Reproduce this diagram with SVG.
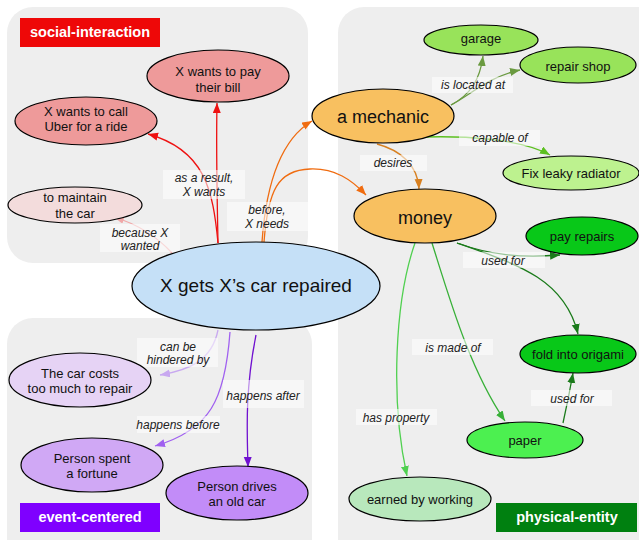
<svg xmlns="http://www.w3.org/2000/svg" width="639" height="540" viewBox="0 0 639 540">
<style>
.panel{fill:#eeeeee}
.node ellipse{stroke:#000;stroke-width:1.2}
.nt{font-family:"Liberation Sans",Arial,sans-serif;font-size:13px;fill:#111;text-anchor:middle}
.big{font-size:18px}
.main{font-size:19px}
.pl{font-family:"Liberation Sans",Arial,sans-serif;font-size:14.5px;font-weight:bold;fill:#fff;text-anchor:middle}
.lb{fill:#fff;fill-opacity:0.55}
.lt{font-family:"Liberation Sans",Arial,sans-serif;font-size:12px;font-style:italic;fill:#222;text-anchor:middle}
.e{fill:none;stroke-width:1.3}
</style>
<defs>
<marker id="m-red" markerUnits="userSpaceOnUse" markerWidth="11" markerHeight="9" refX="10" refY="4" orient="auto"><path d="M0,0 L10,4 L0,8 z" fill="#ee1111"/></marker>
<marker id="m-pink" markerUnits="userSpaceOnUse" markerWidth="11" markerHeight="9" refX="10" refY="4" orient="auto"><path d="M0,0 L10,4 L0,8 z" fill="#f0a8a8"/></marker>
<marker id="m-or" markerUnits="userSpaceOnUse" markerWidth="11" markerHeight="9" refX="10" refY="4" orient="auto"><path d="M0,0 L10,4 L0,8 z" fill="#f06c10"/></marker>
<marker id="m-dor" markerUnits="userSpaceOnUse" markerWidth="11" markerHeight="9" refX="10" refY="4" orient="auto"><path d="M0,0 L10,4 L0,8 z" fill="#d88020"/></marker>
<marker id="m-ol" markerUnits="userSpaceOnUse" markerWidth="11" markerHeight="9" refX="10" refY="4" orient="auto"><path d="M0,0 L10,4 L0,8 z" fill="#6a9a40"/></marker>
<marker id="m-yg" markerUnits="userSpaceOnUse" markerWidth="11" markerHeight="9" refX="10" refY="4" orient="auto"><path d="M0,0 L10,4 L0,8 z" fill="#5cc020"/></marker>
<marker id="m-dg" markerUnits="userSpaceOnUse" markerWidth="11" markerHeight="9" refX="10" refY="4" orient="auto"><path d="M0,0 L10,4 L0,8 z" fill="#1a7a1a"/></marker>
<marker id="m-g" markerUnits="userSpaceOnUse" markerWidth="11" markerHeight="9" refX="10" refY="4" orient="auto"><path d="M0,0 L10,4 L0,8 z" fill="#38b038"/></marker>
<marker id="m-lg" markerUnits="userSpaceOnUse" markerWidth="11" markerHeight="9" refX="10" refY="4" orient="auto"><path d="M0,0 L10,4 L0,8 z" fill="#50d050"/></marker>
<marker id="m-lp" markerUnits="userSpaceOnUse" markerWidth="11" markerHeight="9" refX="10" refY="4" orient="auto"><path d="M0,0 L10,4 L0,8 z" fill="#c8a8f0"/></marker>
<marker id="m-p" markerUnits="userSpaceOnUse" markerWidth="11" markerHeight="9" refX="10" refY="4" orient="auto"><path d="M0,0 L10,4 L0,8 z" fill="#a060f0"/></marker>
<marker id="m-dp" markerUnits="userSpaceOnUse" markerWidth="11" markerHeight="9" refX="10" refY="4" orient="auto"><path d="M0,0 L10,4 L0,8 z" fill="#7010d0"/></marker>
</defs>
<rect width="639" height="540" fill="#fff"/>
<g id="panels">
<rect class="panel" x="7" y="7" width="301" height="256" rx="26"/>
<rect class="panel" x="338" y="7" width="330" height="560" rx="26"/>
<rect class="panel" x="7" y="318" width="305" height="250" rx="26"/>
<rect x="20" y="18" width="140" height="29" fill="#ee0808"/>
<text class="pl" x="90" y="37">social-interaction</text>
<rect x="20" y="503" width="140" height="29" fill="#7f00ff"/>
<text class="pl" x="90" y="522">event-centered</text>
<rect x="496" y="503" width="141" height="29" fill="#008010"/>
<text class="pl" x="567" y="522">physical-entity</text>
</g>
<g id="connectors">
<path class="e" stroke="#ee1111" d="M218,243 C213,190 205,150 148,134" marker-end="url(#m-red)"/>
<path class="e" stroke="#ee1111" d="M218,243 C217,190 216,150 217,103" marker-end="url(#m-red)"/>
<path class="e" stroke="#f0a8a8" d="M172,253 C160,240 140,225 114,217" marker-end="url(#m-pink)"/>
<path class="e" stroke="#f06c10" d="M262,242 C266,185 280,140 312,121" marker-end="url(#m-or)"/>
<path class="e" stroke="#f06c10" d="M264,242 C268,190 278,170 310,169 C335,168 352,180 366,195" marker-end="url(#m-or)"/>
<path class="e" stroke="#d88020" d="M377,144 C400,150 418,165 419,189" marker-end="url(#m-dor)"/>
<path class="e" stroke="#6a9a40" d="M451,105 C470,95 480,80 483,56" marker-end="url(#m-ol)"/>
<path class="e" stroke="#6a9a40" d="M451,105 C470,95 490,76 520,70" marker-end="url(#m-ol)"/>
<path class="e" stroke="#5cc020" d="M425,137 C460,136 520,138 550,155" marker-end="url(#m-yg)"/>
<path class="e" stroke="#1a7a1a" d="M457,243 C490,255 520,258 560,255" marker-end="url(#m-dg)"/>
<path class="e" stroke="#1a7a1a" d="M457,243 C520,265 565,280 578,334" marker-end="url(#m-dg)"/>
<path class="e" stroke="#38b038" d="M432,243 C450,300 470,370 505,421" marker-end="url(#m-g)"/>
<path class="e" stroke="#50d050" d="M415,243 C395,300 390,400 407,476" marker-end="url(#m-lg)"/>
<path class="e" stroke="#1a7a1a" d="M563,423 C567,405 570,390 573,373" marker-end="url(#m-dg)"/>
<path class="e" stroke="#c8a8f0" d="M218,330 C212,360 190,370 160,375" marker-end="url(#m-lp)"/>
<path class="e" stroke="#a060f0" d="M230,332 C225,400 210,430 155,446" marker-end="url(#m-p)"/>
<path class="e" stroke="#7010d0" d="M256,335 C245,390 247,430 248,467" marker-end="url(#m-dp)"/>
<rect class="lb" x="163" y="170" width="82" height="29"/>
<text class="lt" x="204" y="182">as a result,</text>
<text class="lt" x="204" y="196">X wants</text>
<rect class="lb" x="100" y="224" width="80" height="28"/>
<text class="lt" x="140" y="237">because X</text>
<text class="lt" x="140" y="250">wanted</text>
<rect class="lb" x="227" y="202" width="81" height="29"/>
<text class="lt" x="267" y="214">before,</text>
<text class="lt" x="267" y="228">X needs</text>
<rect class="lb" x="360" y="155" width="67" height="16"/>
<text class="lt" x="393" y="167">desires</text>
<rect class="lb" x="432" y="77" width="81" height="16"/>
<text class="lt" x="473" y="89">is located at</text>
<rect class="lb" x="459" y="130" width="81" height="16"/>
<text class="lt" x="500" y="142">capable of</text>
<rect class="lb" x="463" y="252" width="82" height="16"/>
<text class="lt" x="503" y="265">used for</text>
<rect class="lb" x="412" y="339" width="81" height="16"/>
<text class="lt" x="453" y="352">is made of</text>
<rect class="lb" x="356" y="409" width="81" height="16"/>
<text class="lt" x="396" y="422">has property</text>
<rect class="lb" x="531" y="390" width="81" height="16"/>
<text class="lt" x="572" y="403">used for</text>
<rect class="lb" x="137" y="338" width="81" height="29"/>
<text class="lt" x="178" y="351">can be</text>
<text class="lt" x="178" y="364">hindered by</text>
<rect class="lb" x="137" y="416" width="83" height="17"/>
<text class="lt" x="178" y="429">happens before</text>
<rect class="lb" x="223" y="380" width="81" height="28"/>
<text class="lt" x="263" y="400">happens after</text>
</g>
<g id="n-main" class="node"><ellipse cx="256" cy="286" rx="124" ry="44" fill="#c5e0f7"/><text class="nt main" x="256" y="292">X gets X’s car repaired</text></g>
<g id="n-bill" class="node"><ellipse cx="218" cy="76" rx="71" ry="26" fill="#ee9a9a"/><text class="nt" x="218" y="76">X wants to pay</text><text class="nt" x="218" y="91.5">their bill</text></g>
<g id="n-uber" class="node"><ellipse cx="86" cy="121" rx="71" ry="24" fill="#ee9a9a"/><text class="nt" x="86" y="115.5">X wants to call</text><text class="nt" x="86" y="130.5">Uber for a ride</text></g>
<g id="n-maintain" class="node"><ellipse cx="75" cy="205" rx="67" ry="18" fill="#f3dcdc"/><text class="nt" x="75" y="202">to maintain</text><text class="nt" x="75" y="217.5">the car</text></g>
<g id="n-mechanic" class="node"><ellipse cx="383" cy="116" rx="71" ry="27" fill="#f8c060"/><text class="nt big" x="383" y="123">a mechanic</text></g>
<g id="n-money" class="node"><ellipse cx="425" cy="216" rx="71" ry="27" fill="#f8c060"/><text class="nt big" x="425" y="224">money</text></g>
<g id="n-garage" class="node"><ellipse cx="481" cy="40" rx="57" ry="15" fill="#98e35a"/><text class="nt" x="481" y="42.5">garage</text></g>
<g id="n-shop" class="node"><ellipse cx="578" cy="65" rx="58" ry="18" fill="#98e35a"/><text class="nt" x="578" y="71">repair shop</text></g>
<g id="n-radiator" class="node"><ellipse cx="571" cy="173" rx="68" ry="17" fill="#bdf28f"/><text class="nt" x="571" y="177.5">Fix leaky radiator</text></g>
<g id="n-pay" class="node"><ellipse cx="582" cy="236" rx="56" ry="19" fill="#08c818"/><text class="nt" x="582" y="241">pay repairs</text></g>
<g id="n-origami" class="node"><ellipse cx="578" cy="354" rx="58" ry="19" fill="#08c818"/><text class="nt" x="578" y="359">fold into origami</text></g>
<g id="n-paper" class="node"><ellipse cx="525" cy="440" rx="58" ry="18" fill="#4cf050"/><text class="nt" x="525" y="445">paper</text></g>
<g id="n-earned" class="node"><ellipse cx="420" cy="499" rx="71" ry="22" fill="#b8e8bc"/><text class="nt" x="420" y="504">earned by working</text></g>
<g id="n-costs" class="node"><ellipse cx="80" cy="380" rx="71" ry="27" fill="#e6d3f5"/><text class="nt" x="80" y="378">The car costs</text><text class="nt" x="80" y="392.5">too much to repair</text></g>
<g id="n-fortune" class="node"><ellipse cx="92" cy="465" rx="71" ry="27" fill="#d0a8f5"/><text class="nt" x="92" y="463">Person spent</text><text class="nt" x="92" y="477.5">a fortune</text></g>
<g id="n-drives" class="node"><ellipse cx="237" cy="493" rx="71" ry="27" fill="#c28cf8"/><text class="nt" x="237" y="491">Person drives</text><text class="nt" x="237" y="505.5">an old car</text></g>
</svg>
